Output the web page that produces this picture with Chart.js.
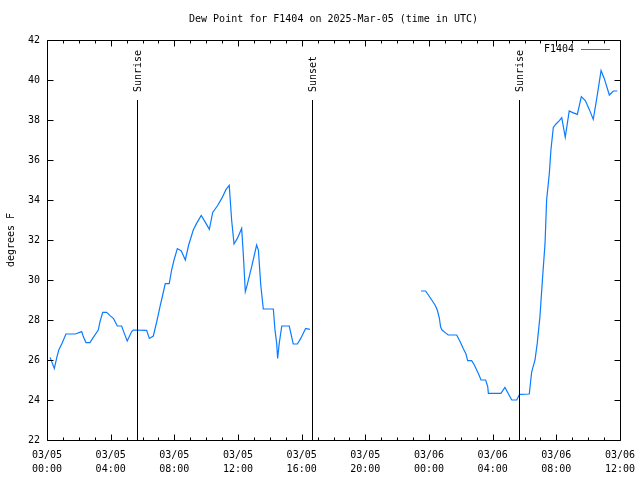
<!DOCTYPE html>
<html>
<head>
<meta charset="utf-8">
<script src="https://cdn.jsdelivr.net/npm/chart.js@4"></script>
<style>
html,body{margin:0;padding:0;background:#fff;}
canvas{display:block;}
</style>
</head>
<body>
<canvas id="c" width="640" height="480"></canvas>
<script>
// Hours since 2025-03-05 00:00 UTC
const seg1Hours = [0.19,0.46,0.63,0.74,0.94,1.19,1.78,2.18,2.28,2.45,2.70,2.91,3.22,3.33,3.50,3.75,3.96,4.17,4.42,4.69,4.84,5.04,5.32,5.42,6.26,6.43,6.68,6.89,7.10,7.27,7.43,7.68,7.83,7.98,8.19,8.44,8.69,8.90,9.19,9.40,9.69,9.95,10.20,10.41,10.70,10.98,11.25,11.45,11.60,11.75,11.96,12.23,12.33,12.46,12.55,12.86,13.17,13.28,13.43,13.59,14.22,14.32,14.43,14.49,14.59,14.75,15.22,15.47,15.73,15.94,16.25,16.52];
const seg1Values = [26.13,25.58,26.17,26.5,26.83,27.3,27.3,27.42,27.17,26.87,26.87,27.13,27.5,27.92,28.38,28.38,28.22,28.08,27.7,27.7,27.37,26.95,27.42,27.5,27.48,27.08,27.2,27.9,28.67,29.25,29.82,29.82,30.5,31.0,31.57,31.45,31.0,31.75,32.5,32.83,33.23,32.88,32.53,33.38,33.7,34.08,34.53,34.73,33.0,31.8,32.08,32.58,31.33,29.42,29.67,30.67,31.75,31.5,29.75,28.55,28.55,27.53,26.83,26.08,26.83,27.7,27.7,26.8,26.8,27.08,27.58,27.53];
const seg2Hours = [23.50,23.79,23.96,24.17,24.38,24.52,24.65,24.73,24.82,25.00,25.21,25.74,25.95,26.15,26.31,26.43,26.68,26.85,27.10,27.27,27.56,27.69,27.73,28.52,28.77,29.20,29.51,29.69,30.30,30.45,30.66,30.80,30.97,31.14,31.29,31.39,31.56,31.66,31.81,31.98,32.19,32.34,32.56,32.81,33.03,33.32,33.57,33.82,34.07,34.32,34.54,34.81,35.01,35.33,35.58,35.83];
const seg2Values = [29.45,29.45,29.25,29.0,28.75,28.5,28.1,27.65,27.5,27.38,27.25,27.25,26.92,26.58,26.33,25.97,25.97,25.75,25.33,25.0,25.0,24.67,24.33,24.33,24.63,24.0,24.0,24.28,24.3,25.4,26.0,26.83,28.17,30.17,31.83,34.0,35.33,36.5,37.63,37.8,37.97,38.12,37.13,38.45,38.37,38.28,39.17,38.97,38.53,38.03,39.08,40.47,40.08,39.25,39.45,39.45];
const eventHours = [5.67, 16.65, 29.65];
const eventLabels = ["Sunrise", "Sunset", "Sunrise"];
const xTickDates = ["03/05","03/05","03/05","03/05","03/05","03/05","03/06","03/06","03/06","03/06"];
const xTickTimes = ["00:00","04:00","08:00","12:00","16:00","20:00","00:00","04:00","08:00","12:00"];
const yTicks = [22,24,26,28,30,32,34,36,38,40,42];
const titleText = "Dew Point for F1404 on 2025-Mar-05 (time in UTC)";
const seriesName = "F1404";
const yAxisTitle = "degrees F";

const FONT = "'DejaVu Sans Mono', 'Liberation Mono', monospace";
const LINE_COLOR = "#0a7cff";

const points = [];
seg1Hours.forEach((h,i)=>points.push({x:h,y:seg1Values[i]}));
points.push({x:20,y:null});
seg2Hours.forEach((h,i)=>points.push({x:h,y:seg2Values[i]}));

const framePlugin = {
  id:'frame',
  beforeDraw(chart){
    const ctx = chart.ctx;
    ctx.save(); ctx.fillStyle='#fff'; ctx.fillRect(0,0,chart.width,chart.height); ctx.restore();
  },
  afterDraw(chart){
    const {ctx, chartArea:a, scales:{x,y}} = chart;
    ctx.save();
    ctx.strokeStyle='#000'; ctx.lineWidth=1;
    const L=Math.round(a.left)+0.5, R=Math.round(a.right)+0.5, T=Math.round(a.top)+0.5, B=Math.round(a.bottom)+0.5;
    ctx.beginPath();
    ctx.rect(L,T,R-L,B-T);
    for(let h=0;h<=36;h++){
      const px=Math.round(x.getPixelForValue(h))+0.5;
      const len = h%4===0?6:3;
      ctx.moveTo(px,B); ctx.lineTo(px,B-len);
      ctx.moveTo(px,T); ctx.lineTo(px,T+len);
    }
    yTicks.forEach(v=>{
      const py=Math.round(y.getPixelForValue(v))+0.5;
      ctx.moveTo(L,py); ctx.lineTo(L+6,py);
      ctx.moveTo(R,py); ctx.lineTo(R-6,py);
    });
    ctx.stroke();
    // event lines
    ctx.font = "10px "+FONT;
    ctx.fillStyle='#000';
    eventHours.forEach((h,i)=>{
      const px=Math.round(x.getPixelForValue(h))+0.5;
      ctx.beginPath(); ctx.moveTo(px,100); ctx.lineTo(px,B); ctx.stroke();
      ctx.save();
      ctx.translate(px+1,92);
      ctx.rotate(-Math.PI/2);
      ctx.textAlign='left'; ctx.textBaseline='middle';
      ctx.fillText(eventLabels[i],0,0);
      ctx.restore();
    });
    // legend
    ctx.textAlign='right'; ctx.textBaseline='middle';
    ctx.fillText(seriesName,574,49);
    ctx.strokeStyle=LINE_COLOR;
    ctx.beginPath(); ctx.moveTo(581,49.5); ctx.lineTo(610,49.5); ctx.stroke();
    // title
    ctx.textAlign='center';
    ctx.fillText(titleText,(a.left+a.right)/2,19);
    // y axis title
    ctx.save();
    ctx.translate(11,(a.top+a.bottom)/2);
    ctx.rotate(-Math.PI/2);
    ctx.textAlign='center'; ctx.textBaseline='middle';
    ctx.fillText(yAxisTitle,0,0);
    ctx.restore();
    ctx.restore();
  }
};

new Chart(document.getElementById('c'),{
  type:'line',
  data:{datasets:[{label:seriesName,data:points,borderColor:LINE_COLOR,borderWidth:1.2,pointRadius:0,tension:0,spanGaps:false,fill:false}]},
  options:{
    responsive:false,
    animation:false,
    events:[],
    layout:{padding:{top:40,right:20,left:0,bottom:0}},
    plugins:{legend:{display:false},title:{display:false},tooltip:{enabled:false}},
    scales:{
      x:{type:'linear',min:0,max:36,
        afterFit(s){s.height=40;s.paddingLeft=0;s.paddingRight=0;},
        grid:{display:false,drawTicks:false},border:{display:false},
        ticks:{stepSize:4,autoSkip:false,maxRotation:0,padding:8,color:'#000',
          font:{family:FONT,size:10,lineHeight:1.4},
          callback(v){const i=Math.round(v/4);return [xTickDates[i],xTickTimes[i]];}}
      },
      y:{type:'linear',min:22,max:42,
        afterFit(s){s.width=47;s.paddingTop=0;s.paddingBottom=0;},
        grid:{display:false,drawTicks:false},border:{display:false},
        ticks:{stepSize:2,padding:7,color:'#000',font:{family:FONT,size:10}}
      }
    }
  },
  plugins:[framePlugin]
});
</script>
</body>
</html>
